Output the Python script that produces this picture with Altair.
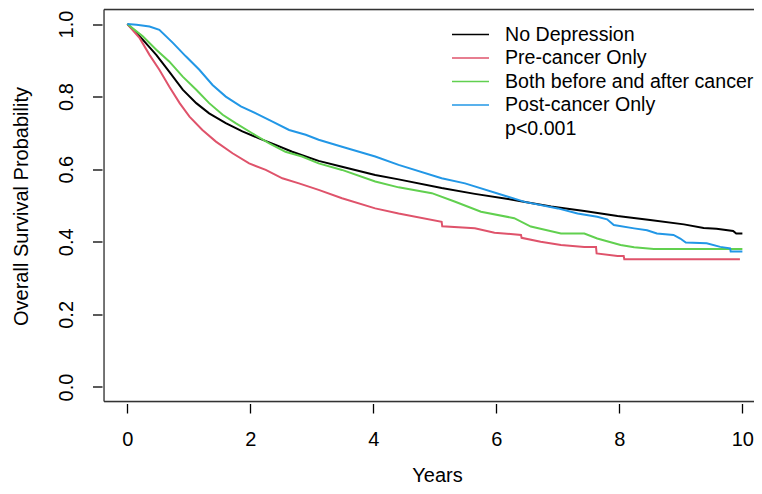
import altair as alt
import pandas as pd

# ---- data (years, survival probability) ----
t_nodep = [0, 0.25, 0.47, 0.68, 0.90, 1.12, 1.33, 1.60, 1.87, 2.14, 2.41, 2.68, 2.90, 3.11,
           3.49, 4.03, 4.41, 5.11, 5.65, 6.19, 6.56, 6.89, 7.43, 7.97, 8.50, 9.05, 9.37,
           9.58, 9.85, 9.90, 10.0]
s_nodep = [1.0, 0.957, 0.915, 0.869, 0.819, 0.782, 0.754, 0.727, 0.704, 0.685, 0.667, 0.648,
           0.635, 0.623, 0.607, 0.584, 0.572, 0.548, 0.532, 0.518, 0.507, 0.497, 0.485, 0.471,
           0.460, 0.448, 0.438, 0.436, 0.430, 0.423, 0.423]

t_pre = [0, 0.2, 0.36, 0.52, 0.68, 0.85, 1.01, 1.22, 1.44, 1.71, 1.98, 2.25, 2.52, 2.79, 3.11,
         3.49, 4.03, 4.41, 5.11, 5.12, 5.65, 5.97, 6.40, 6.41, 6.72, 7.05, 7.43, 7.62, 7.63,
         7.97, 8.07, 8.08, 9.96]
s_pre = [1.0, 0.961, 0.915, 0.874, 0.828, 0.782, 0.745, 0.708, 0.676, 0.644, 0.616, 0.598,
         0.575, 0.561, 0.543, 0.520, 0.492, 0.478, 0.455, 0.443, 0.437, 0.425, 0.419, 0.411,
         0.400, 0.391, 0.386, 0.386, 0.368, 0.361, 0.361, 0.352, 0.352]

t_both = [0, 0.25, 0.47, 0.68, 0.90, 1.12, 1.33, 1.55, 1.76, 2.03, 2.30, 2.57, 2.84, 3.11, 3.49,
          4.03, 4.41, 4.95, 5.32, 5.75, 6.29, 6.56, 7.05, 7.43, 7.64, 8.02, 8.24, 8.56, 10.0]
s_both = [1.0, 0.966, 0.929, 0.897, 0.855, 0.819, 0.782, 0.750, 0.727, 0.699, 0.672, 0.648,
          0.635, 0.616, 0.598, 0.566, 0.550, 0.534, 0.511, 0.483, 0.465, 0.442, 0.423, 0.423,
          0.409, 0.391, 0.385, 0.380, 0.380]

t_post = [0, 0.15, 0.36, 0.52, 0.74, 0.95, 1.17, 1.385, 1.60, 1.845, 2.09, 2.36, 2.63, 2.90,
          3.11, 3.49, 4.03, 4.41, 5.11, 5.49, 6.19, 6.46, 7.0, 7.32, 7.64, 7.80, 7.91, 8.24,
          8.45, 8.61, 8.88, 8.99, 9.08, 9.42, 9.64, 9.80, 9.81, 10.0]
s_post = [1.0, 0.998, 0.993, 0.984, 0.948, 0.911, 0.874, 0.832, 0.800, 0.773, 0.754, 0.731,
          0.708, 0.695, 0.681, 0.662, 0.635, 0.612, 0.575, 0.561, 0.524, 0.510, 0.492, 0.478,
          0.469, 0.462, 0.446, 0.437, 0.432, 0.423, 0.419, 0.409, 0.398, 0.396, 0.386, 0.382,
          0.373, 0.373]

groups = ["No Depression", "Pre-cancer Only", "Both before and after cancer", "Post-cancer Only"]
colors = ["#000000", "#DF536B", "#61D04F", "#2297E6"]
x_ticks = [0, 2, 4, 6, 8, 10]
y_ticks = [0.0, 0.2, 0.4, 0.6, 0.8, 1.0]
p_text = "p<0.001"

series = [(t_nodep, s_nodep), (t_pre, s_pre), (t_both, s_both), (t_post, s_post)]

FONT = "Liberation Sans"
W, H = 650, 392

rows = []
for g, (ts, ss) in zip(groups, series):
    for i, (t, s) in enumerate(zip(ts, ss)):
        rows.append({"group": g, "t": t, "s": s, "i": i})
df = pd.DataFrame(rows)

xscale = alt.Scale(domain=[-0.38, 10.189], nice=False, zero=False)
yscale = alt.Scale(domain=[-0.04, 1.04], nice=False, zero=False)

xaxis = alt.Axis(values=x_ticks, format="d", grid=False, domain=False, tickSize=9.5,
                 tickWidth=1.3, tickColor="#000", offset=2, labelFontSize=20, labelFont=FONT,
                 labelColor="#000", labelPadding=16, labelFlush=False, title="Years",
                 titleFont=FONT, titleFontSize=20, titleFontWeight="normal", titleColor="#000",
                 titleX=333, titleY=78, titleBaseline="alphabetic", titleAlign="center")
yaxis = alt.Axis(values=y_ticks, format=".1f", grid=False, domain=False, tickSize=9.5,
                 tickWidth=1.3, tickColor="#000", offset=2, labelFontSize=20, labelFont=FONT,
                 labelColor="#000", labelPadding=26, labelAngle=270, labelAlign="center",
                 labelBaseline="middle", labelFlush=False,
                 title="Overall Survival Probability", titleFont=FONT, titleFontSize=20,
                 titleFontWeight="normal", titleColor="#000", titleAngle=270,
                 titleX=-80.3, titleY=196.5, titleAlign="center", titleBaseline="middle")

layers = []
for k, (g, c) in enumerate(zip(groups, colors)):
    if k == 0:
        xe = alt.X("t:Q", scale=xscale, axis=xaxis)
        ye = alt.Y("s:Q", scale=yscale, axis=yaxis)
    else:
        xe = alt.X("t:Q", scale=xscale)
        ye = alt.Y("s:Q", scale=yscale)
    layers.append(
        alt.Chart(df).transform_filter(alt.datum.group == g)
        .mark_line(color=c, strokeWidth=2, clip=True)
        .encode(x=xe, y=ye, order=alt.Order("i:Q"))
    )

one = alt.Data(values=[{"a": 1}])
box_color = "#333333"
# box (left, top, bottom) – the right side lies beyond the picture
layers.append(alt.Chart(one).mark_rule(color=box_color, strokeWidth=1.3).encode(
    x=alt.value(0), y=alt.value(0), y2=alt.value(H)))
layers.append(alt.Chart(one).mark_rule(color=box_color, strokeWidth=1.3).encode(
    x=alt.value(0), x2=alt.value(W + 5), y=alt.value(0)))
layers.append(alt.Chart(one).mark_rule(color=box_color, strokeWidth=1.3).encode(
    x=alt.value(0), x2=alt.value(W + 5), y=alt.value(H)))

# legend
LEG_FS = 19.6
leg_y0, leg_dy = 25.0, 23.5
for k, (g, c) in enumerate(zip(groups, colors)):
    yy = leg_y0 + leg_dy * k
    layers.append(alt.Chart(one).mark_rule(color=c, strokeWidth=1.3).encode(
        x=alt.value(348), x2=alt.value(385), y=alt.value(yy)))
    layers.append(alt.Chart(one).mark_text(align="left", baseline="middle", font=FONT,
                                           fontSize=LEG_FS, color="#000").encode(
        x=alt.value(401), y=alt.value(yy), text=alt.value(g)))
layers.append(alt.Chart(one).mark_text(align="left", baseline="middle", font=FONT,
                                       fontSize=LEG_FS, color="#000").encode(
    x=alt.value(401), y=alt.value(leg_y0 + leg_dy * 4), text=alt.value(p_text)))

chart = alt.layer(*layers).properties(
    width=W, height=H,
    padding={"left": 96, "top": 1.5, "right": 0, "bottom": 84.5},
    autosize=alt.AutoSizeParams(type="none"),
).configure_view(stroke=None).configure(background="white")

chart.save("out.html", embed_options={"renderer": "svg", "actions": False})
